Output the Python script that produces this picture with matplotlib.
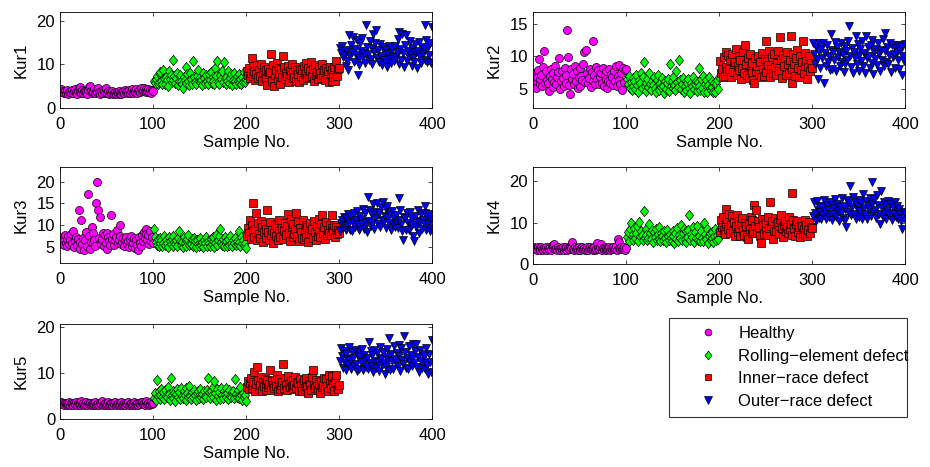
import matplotlib
matplotlib.use("Agg")
import matplotlib.pyplot as plt
import numpy as np

plt.rcParams['font.family'] = ['Liberation Sans', 'DejaVu Sans']
plt.rcParams['font.size'] = 12

# ---- Kur1 ----
kur1_healthy = [4.3, 3.6, 3.9, 3.4, 4.0, 3.5, 3.8, 4.2, 3.3, 3.7,
                3.9, 3.5, 4.1, 3.4, 3.8, 4.4, 3.6, 3.3, 3.9, 4.6,
                4.9, 3.7, 3.5, 4.2, 3.4, 3.8, 4.0, 3.6, 3.3, 4.1,
                4.7, 5.1, 3.8, 3.5, 4.0, 3.6, 4.4, 3.4, 3.9, 3.7,
                4.5, 3.6, 3.3, 3.9, 3.5, 4.2, 3.8, 3.4, 4.6, 3.7,
                3.5, 3.9, 3.3, 3.6, 3.4, 3.8, 3.2, 3.5, 3.7, 3.3,
                3.6, 3.4, 3.8, 3.3, 3.5, 3.2, 3.7, 3.9, 3.4, 4.1,
                3.6, 3.9, 3.4, 4.2, 3.5, 3.8, 4.3, 3.6, 3.4, 4.0,
                3.7, 4.4, 3.5, 3.9, 4.2, 3.6, 4.5, 3.8, 4.1, 4.6,
                3.9, 4.3, 3.6, 4.0, 4.4, 3.7, 4.2, 3.5, 4.1, 3.8]
kur1_rolling = [6.2, 5.8, 6.6, 7.4, 5.4, 6.0, 7.8, 8.3, 6.3, 5.5,
                8.8, 6.9, 5.6, 7.2, 6.4, 5.1, 8.4, 6.7, 7.5, 5.9,
                6.5, 11.1, 7.3, 5.7, 6.9, 8.0, 5.3, 6.2, 7.6, 6.1,
                5.5, 4.5, 7.0, 6.4, 9.5, 5.8, 7.7, 6.3, 5.2, 8.1,
                6.6, 5.6, 10.7, 7.1, 6.0, 5.4, 7.4, 8.6, 6.2, 5.9,
                7.2, 6.5, 5.3, 8.0, 6.8, 5.7, 7.5, 6.1, 5.5, 7.9,
                6.4, 8.3, 5.8, 7.0, 6.3, 5.6, 9.1, 7.3, 10.7, 6.0,
                5.4, 7.6, 6.6, 8.5, 5.9, 10.5, 6.8, 5.5, 7.2, 6.2,
                8.4, 5.7, 6.9, 7.7, 5.3, 6.5, 8.0, 6.1, 5.6, 7.4,
                6.3, 7.9, 5.8, 6.7, 5.4, 7.1, 6.0, 8.2, 5.9, 6.6]
kur1_inner = [8.5, 7.6, 9.2, 6.8, 8.0, 11.5, 7.3, 9.6, 8.4, 6.5,
              7.9, 9.8, 6.9, 8.7, 7.4, 10.1, 6.3, 8.2, 9.4, 7.1,
              8.8, 6.6, 5.2, 9.0, 7.7, 8.3, 12.4, 6.2, 9.9, 5.0,
              7.5, 8.6, 10.2, 6.4, 9.1, 7.8, 5.6, 8.9, 7.2, 12.0,
              9.5, 6.7, 8.1, 7.3, 9.7, 6.0, 8.4, 7.6, 10.0, 6.9,
              8.2, 7.0, 9.3, 6.2, 8.6, 7.9, 5.9, 9.0, 7.4, 8.8,
              6.5, 9.6, 7.7, 10.4, 8.0, 6.8, 9.2, 7.1, 8.5, 10.6,
              7.3, 8.9, 6.1, 9.8, 7.6, 8.3, 6.6, 9.4, 7.9, 8.1,
              6.9, 10.0, 7.5, 8.7, 6.4, 9.1, 7.2, 8.4, 6.0, 9.5,
              7.8, 6.3, 8.6, 7.0, 9.3, 6.2, 10.8, 7.4, 8.9, 9.2]
kur1_outer = [13.8, 12.5, 14.2, 11.6, 13.0, 12.1, 9.6, 13.4, 10.8, 8.6,
              16.7, 11.9, 14.5, 12.8, 16.2, 10.5, 13.6, 12.2, 15.6, 7.6,
              11.4, 9.8, 14.8, 13.1, 16.0, 11.7, 12.6, 10.3, 19.1, 14.0,
              12.3, 10.9, 15.3, 11.2, 13.7, 10.1, 17.0, 12.9, 15.0, 17.9,
              11.5, 13.3, 10.6, 14.6, 12.0, 9.9, 13.9, 11.1, 12.7, 10.4,
              13.2, 9.4, 12.4, 14.3, 11.3, 10.2, 13.5, 12.0, 10.7, 14.1,
              11.8, 12.9, 15.8, 10.0, 17.4, 13.6, 11.0, 16.9, 12.5, 9.3,
              14.4, 16.8, 10.8, 13.0, 11.6, 15.4, 12.2, 9.7, 13.8, 11.4,
              10.5, 14.7, 12.8, 9.2, 13.1, 15.2, 11.7, 10.2, 14.0, 12.4,
              13.5, 19.1, 11.0, 15.5, 10.6, 13.9, 12.1, 14.9, 10.4, 18.5]

# ---- Kur2 ----
kur2_healthy = [7.5, 6.2, 5.2, 6.8, 7.9, 9.6, 5.8, 6.5, 7.2, 5.5,
                8.4, 10.8, 6.0, 7.7, 6.4, 5.9, 4.7, 7.0, 8.1, 6.6,
                5.3, 7.4, 6.1, 8.6, 5.7, 6.9, 7.6, 9.7, 5.0, 6.3,
                7.8, 6.7, 5.4, 8.2, 7.1, 6.0, 14.1, 9.9, 5.6, 4.3,
                8.0, 6.5, 7.3, 5.8, 8.5, 6.2, 7.7, 5.1, 6.9, 8.3,
                5.5, 7.0, 6.4, 8.8, 10.6, 6.1, 11.0, 7.4, 5.9, 6.7,
                8.1, 5.3, 7.6, 6.3, 12.3, 7.2, 5.7, 8.4, 6.6, 7.9,
                5.8, 6.9, 7.5, 6.0, 8.2, 5.4, 7.1, 6.5, 7.8, 5.1,
                6.3, 8.0, 5.9, 7.3, 6.8, 5.6, 7.7, 6.2, 8.6, 5.5,
                7.0, 6.4, 8.7, 5.8, 7.4, 4.9, 8.3, 6.1, 7.9, 8.0]
kur2_rolling = [6.5, 5.8, 7.0, 5.2, 6.1, 4.8, 6.7, 5.5, 6.3, 5.0,
                7.2, 5.6, 4.6, 6.4, 5.9, 7.5, 5.1, 6.8, 9.2, 5.4,
                6.0, 4.7, 6.6, 5.3, 7.4, 5.8, 4.9, 6.2, 5.6, 6.9,
                5.1, 4.5, 6.4, 7.1, 5.7, 4.8, 6.0, 5.3, 6.7, 5.5,
                4.4, 6.2, 5.0, 5.9, 6.6, 4.7, 8.8, 5.4, 6.3, 5.2,
                6.9, 5.6, 4.9, 7.7, 6.1, 5.3, 9.5, 6.4, 5.0, 5.8,
                6.7, 4.6, 5.5, 6.2, 4.8, 5.9, 6.5, 5.1, 4.4, 6.0,
                5.4, 6.8, 5.0, 5.7, 6.3, 4.7, 6.1, 8.2, 5.5, 4.9,
                6.6, 5.2, 7.0, 4.6, 5.8, 6.4, 4.5, 5.6, 6.9, 5.1,
                4.8, 6.2, 5.3, 4.6, 5.9, 4.5, 5.7, 6.4, 5.0, 6.8]
kur2_inner = [9.3, 7.4, 8.1, 6.8, 9.9, 7.0, 10.6, 8.4, 7.7, 10.2,
              8.0, 9.5, 6.9, 10.4, 7.6, 8.8, 9.1, 11.1, 7.2, 8.6,
              10.0, 7.9, 9.4, 6.6, 8.3, 10.7, 7.5, 11.8, 8.9, 7.1,
              9.7, 6.7, 10.3, 8.2, 7.4, 9.0, 6.4, 6.0, 9.8, 7.8,
              8.5, 10.1, 7.3, 9.2, 6.8, 10.5, 8.0, 7.0, 9.6, 12.3,
              7.6, 9.3, 8.7, 10.8, 6.9, 8.1, 9.9, 7.4, 10.4, 8.4,
              7.1, 9.0, 10.9, 8.3, 7.7, 13.0, 9.4, 6.7, 10.2, 8.6,
              9.8, 7.2, 10.6, 8.9, 7.5, 9.5, 13.1, 8.0, 6.0, 10.3,
              8.8, 7.0, 9.7, 11.0, 8.2, 6.8, 10.0, 7.9, 9.1, 12.3,
              7.4, 10.5, 8.6, 9.3, 6.6, 8.4, 10.1, 7.8, 9.0, 8.2]
kur2_outer = [12.0, 10.4, 8.8, 11.5, 9.6, 6.5, 10.9, 12.1, 8.3, 11.2,
              9.8, 12.0, 6.0, 10.5, 8.6, 11.7, 9.2, 10.0, 7.9, 13.4,
              11.0, 8.1, 10.7, 9.4, 12.2, 7.8, 11.4, 9.9, 10.6, 8.5,
              12.0, 9.1, 10.3, 7.6, 11.6, 8.9, 10.8, 9.5, 12.3, 14.7,
              10.1, 8.4, 11.3, 7.5, 10.7, 9.7, 13.2, 8.8, 11.9, 10.2,
              7.7, 11.1, 9.3, 12.4, 8.6, 10.5, 7.4, 13.2, 9.8, 11.5,
              10.0, 8.2, 11.8, 9.0, 12.5, 7.3, 10.6, 9.6, 11.2, 8.7,
              12.1, 10.3, 7.8, 11.0, 9.4, 12.6, 8.5, 10.8, 13.6, 9.2,
              11.4, 8.9, 10.2, 12.0, 7.6, 11.7, 9.9, 10.4, 8.3, 11.3,
              10.6, 9.5, 11.8, 8.0, 10.9, 11.6, 7.2, 10.1, 9.3, 11.9]

# ---- Kur3 ----
kur3_healthy = [5.8, 7.2, 6.3, 5.5, 7.8, 6.0, 5.2, 6.8, 7.5, 5.6,
                6.6, 8.0, 5.9, 8.7, 5.0, 6.4, 7.3, 5.4, 6.9, 13.4,
                6.1, 4.6, 11.2, 5.7, 7.0, 4.4, 6.5, 8.5, 5.3, 17.2,
                7.6, 4.5, 6.2, 9.7, 5.8, 8.2, 6.7, 5.1, 15.1, 20.0,
                13.4, 7.1, 12.0, 5.6, 6.9, 8.3, 5.2, 7.7, 6.0, 8.1,
                4.5, 7.4, 6.3, 5.5, 12.4, 6.8, 7.9, 5.4, 6.5, 7.2,
                9.0, 5.9, 6.6, 10.1, 7.5, 5.7, 6.2, 7.0, 5.3, 6.8,
                7.3, 5.6, 6.4, 5.0, 6.9, 7.6, 5.2, 6.1, 5.8, 7.1,
                4.7, 6.5, 5.5, 4.4, 7.4, 6.0, 5.1, 7.8, 6.3, 8.4,
                7.0, 9.1, 8.0, 6.6, 7.7, 5.6, 8.6, 6.4, 7.3, 5.9]
kur3_rolling = [9.2, 7.4, 6.2, 5.5, 6.8, 5.1, 7.1, 5.8, 6.5, 5.3,
                6.0, 7.6, 5.4, 6.7, 5.9, 5.0, 7.2, 6.3, 5.6, 6.9,
                7.5, 5.2, 6.1, 5.7, 6.6, 5.3, 7.0, 8.6, 6.4, 5.5,
                6.2, 5.0, 7.3, 5.8, 6.5, 5.1, 6.9, 7.7, 5.4, 6.0,
                5.6, 6.8, 5.2, 7.1, 6.3, 4.9, 6.6, 5.7, 5.3, 6.2,
                7.0, 5.5, 6.1, 5.0, 6.7, 5.8, 7.4, 5.3, 6.4, 5.9,
                5.2, 6.9, 5.6, 6.3, 7.2, 5.0, 6.0, 7.8, 5.4, 6.6,
                7.5, 9.1, 6.1, 5.5, 6.8, 5.2, 7.3, 5.7, 6.4, 5.1,
                6.9, 5.4, 7.6, 6.0, 5.3, 6.5, 5.8, 7.0, 5.5, 6.3,
                5.6, 8.6, 6.2, 5.2, 7.2, 5.9, 6.6, 5.4, 6.0, 4.8]
kur3_inner = [7.6, 9.4, 8.2, 11.2, 6.8, 10.0, 8.7, 15.2, 7.3, 9.1,
              12.9, 6.6, 10.5, 8.0, 7.1, 11.0, 9.6, 6.2, 8.5, 10.3,
              7.0, 9.2, 13.4, 8.4, 6.5, 10.7, 7.8, 9.0, 5.8, 8.1,
              10.1, 7.5, 9.7, 6.7, 11.3, 8.6, 7.2, 10.4, 9.3, 6.9,
              8.9, 10.6, 7.7, 9.9, 12.6, 8.3, 6.4, 11.5, 9.5, 7.4,
              10.2, 8.0, 9.1, 12.8, 7.6, 10.8, 6.3, 9.4, 8.5, 7.1,
              11.1, 6.8, 8.8, 10.0, 7.3, 9.6, 6.1, 8.2, 10.5, 7.9,
              9.2, 7.0, 10.9, 8.4, 6.6, 9.8, 7.5, 11.4, 8.7, 7.2,
              10.3, 12.4, 8.1, 9.5, 6.9, 10.7, 7.8, 9.0, 8.3, 10.1,
              7.7, 9.3, 12.3, 8.6, 10.0, 7.4, 9.6, 8.0, 8.9, 8.2]
kur3_outer = [8.7, 10.6, 11.3, 9.4, 12.0, 10.1, 8.9, 11.7, 9.8, 12.5,
              10.4, 9.0, 11.9, 8.6, 10.8, 12.7, 9.5, 11.1, 13.3, 10.0,
              8.8, 12.2, 9.7, 11.5, 10.3, 13.8, 9.2, 12.9, 10.7, 8.5,
              16.6, 11.0, 13.5, 9.9, 12.4, 10.5, 14.8, 9.1, 13.0, 11.6,
              15.2, 10.2, 12.8, 9.6, 14.2, 11.3, 15.4, 10.9, 12.1, 13.7,
              9.3, 14.5, 11.8, 10.4, 12.6, 8.9, 13.2, 10.0, 11.4, 9.7,
              12.3, 10.8, 9.4, 16.2, 11.1, 13.4, 10.3, 8.6, 6.7, 12.0,
              11.7, 9.0, 12.9, 10.6, 8.8, 13.1, 9.8, 11.5, 10.1, 7.6,
              6.4, 12.2, 9.5, 11.0, 13.6, 8.3, 10.7, 12.5, 9.2, 11.3,
              10.4, 12.8, 14.5, 9.0, 11.9, 10.2, 12.6, 8.7, 11.4, 9.3]

# ---- Kur4 ----
kur4_healthy = [4.2, 3.7, 3.9, 3.5, 4.0, 3.6, 3.8, 3.4, 4.1, 3.7,
                3.5, 3.9, 3.6, 4.2, 3.4, 3.8, 3.7, 4.0, 3.5, 4.3,
                3.9, 4.5, 4.9, 3.6, 3.8, 3.4, 4.1, 3.7, 3.5, 3.9,
                3.6, 4.0, 3.4, 3.8, 3.7, 4.2, 3.5, 3.9, 3.6, 4.1,
                3.8, 5.3, 3.7, 3.5, 4.0, 3.6, 3.9, 3.4, 4.2, 3.7,
                3.5, 3.8, 4.1, 3.6, 3.9, 3.4, 3.7, 4.0, 3.5, 3.8,
                4.2, 3.6, 3.9, 3.5, 3.8, 4.0, 3.4, 3.7, 5.1, 3.9,
                3.6, 4.1, 4.9, 3.5, 3.8, 3.7, 4.0, 3.4, 3.9, 3.6,
                3.8, 4.2, 3.5, 3.9, 3.7, 4.0, 3.6, 3.8, 4.3, 3.5,
                6.0, 3.9, 5.3, 3.7, 4.1, 3.6, 3.8, 4.0, 3.5, 3.9]
kur4_rolling = [6.5, 7.8, 5.6, 8.4, 10.0, 6.9, 7.3, 5.8, 8.8, 6.2,
                7.6, 9.2, 5.5, 10.1, 6.7, 8.0, 7.1, 5.9, 12.8, 6.4,
                8.6, 7.0, 5.7, 6.3, 9.8, 7.4, 6.0, 8.2, 5.4, 7.7,
                6.6, 8.5, 5.8, 7.2, 6.1, 8.9, 5.5, 7.5, 6.8, 5.9,
                7.9, 6.2, 5.3, 8.3, 6.9, 5.7, 7.3, 6.4, 5.6, 8.0,
                6.7, 5.2, 7.6, 6.0, 8.7, 5.5, 7.0, 6.3, 9.4, 5.8,
                7.4, 8.6, 6.1, 5.4, 7.9, 6.6, 8.2, 11.8, 5.7, 7.2,
                6.5, 8.9, 5.3, 7.7, 6.2, 9.3, 5.9, 7.1, 6.8, 5.5,
                8.1, 6.4, 5.6, 9.9, 7.3, 6.0, 8.4, 5.2, 6.9, 7.5,
                5.7, 6.3, 7.8, 5.4, 6.7, 8.6, 5.9, 7.0, 6.1, 8.3]
kur4_inner = [7.8, 10.6, 9.0, 11.3, 8.2, 7.3, 13.4, 9.7, 10.9, 8.6,
              12.0, 7.5, 9.4, 11.6, 8.0, 10.2, 6.9, 9.1, 11.8, 7.7,
              8.8, 10.4, 6.7, 9.6, 11.1, 8.3, 7.1, 10.0, 9.3, 6.5,
              6.0, 9.8, 8.5, 11.4, 7.4, 10.7, 8.1, 14.4, 9.2, 13.0,
              7.6, 10.3, 8.9, 6.8, 5.1, 11.0, 9.5, 7.2, 10.8, 8.4,
              9.9, 7.0, 11.5, 8.7, 15.0, 9.3, 10.5, 6.1, 8.0, 11.2,
              7.9, 9.6, 10.1, 8.3, 7.3, 10.9, 11.8, 8.8, 6.6, 9.4,
              10.3, 8.1, 9.0, 7.5, 11.3, 8.5, 9.8, 7.1, 17.2, 10.6,
              8.4, 6.9, 9.7, 10.4, 7.7, 8.9, 6.5, 10.0, 9.2, 7.4,
              8.6, 10.7, 7.0, 9.5, 6.8, 8.2, 10.1, 7.6, 9.0, 8.7]
kur4_outer = [11.6, 14.9, 12.3, 10.4, 15.3, 13.1, 11.2, 14.0, 12.6, 10.8,
              13.7, 11.9, 15.6, 12.8, 10.9, 14.4, 13.0, 11.5, 15.1, 12.1,
              14.2, 10.7, 13.5, 12.0, 15.8, 11.3, 14.6, 12.9, 10.5, 13.8,
              12.4, 15.9, 11.1, 14.1, 13.3, 10.6, 9.0, 15.4, 12.7, 14.8,
              18.8, 11.8, 13.9, 16.2, 12.2, 15.0, 10.9, 14.3, 13.2, 11.4,
              15.5, 12.8, 14.7, 11.0, 17.0, 13.6, 12.1, 15.2, 10.8, 14.0,
              13.4, 16.1, 11.7, 14.5, 19.8, 12.5, 15.7, 13.0, 11.2, 16.6,
              14.2, 12.0, 9.6, 17.8, 13.5, 11.5, 15.1, 12.7, 14.4, 10.9,
              13.1, 15.3, 11.8, 14.6, 12.4, 10.6, 13.9, 12.2, 15.0, 11.3,
              14.1, 12.9, 11.0, 13.4, 12.0, 10.4, 8.5, 12.6, 11.1, 12.3]

# ---- Kur5 ----
kur5_healthy = [3.7, 3.2, 3.4, 3.1, 3.5, 3.3, 3.0, 3.4, 3.2, 3.6,
                3.1, 3.5, 3.3, 3.0, 3.4, 3.2, 3.6, 3.1, 3.5, 3.3,
                3.0, 3.4, 4.0, 3.2, 3.5, 3.1, 3.3, 3.6, 3.0, 3.4,
                3.2, 3.5, 3.1, 3.3, 3.0, 3.4, 3.2, 3.6, 3.1, 3.3,
                3.5, 3.0, 3.4, 3.2, 3.9, 3.1, 3.3, 3.5, 3.0, 3.4,
                3.2, 3.6, 3.1, 3.3, 3.5, 3.0, 3.4, 3.2, 3.6, 3.1,
                3.3, 3.5, 3.0, 3.4, 3.2, 3.6, 3.1, 3.3, 3.5, 3.0,
                3.4, 3.2, 3.6, 3.1, 3.3, 3.5, 3.0, 3.4, 3.2, 3.7,
                3.1, 3.3, 3.5, 3.0, 3.4, 3.2, 3.6, 3.8, 3.3, 3.5,
                3.0, 3.4, 3.9, 3.2, 3.5, 3.1, 3.3, 3.6, 3.2, 3.4]
kur5_rolling = [4.5, 5.6, 4.2, 8.5, 5.0, 6.1, 4.4, 5.3, 6.6, 4.8,
                5.9, 4.3, 6.4, 5.1, 4.7, 6.9, 5.5, 4.1, 8.9, 5.2,
                4.6, 6.2, 5.7, 4.0, 5.4, 6.5, 4.9, 5.8, 4.3, 6.7,
                5.0, 4.5, 6.0, 5.3, 4.2, 6.8, 5.6, 4.7, 7.1, 5.1,
                4.4, 5.9, 4.8, 6.3, 5.2, 4.1, 5.7, 6.1, 4.6, 5.4,
                6.6, 4.9, 5.5, 4.3, 6.0, 5.1, 4.7, 6.4, 8.9, 5.8,
                4.5, 6.2, 5.3, 7.0, 4.8, 8.2, 5.6, 4.2, 6.5, 5.0,
                5.9, 4.4, 6.7, 5.2, 4.6, 6.1, 5.4, 4.9, 6.8, 5.7,
                4.3, 6.3, 5.1, 4.7, 5.8, 6.0, 4.5, 8.7, 5.5, 4.8,
                6.4, 5.0, 4.6, 6.9, 5.3, 4.2, 5.7, 4.9, 5.2, 3.9]
kur5_inner = [7.0, 8.3, 6.5, 7.8, 9.0, 6.8, 7.5, 8.1, 10.3, 6.2,
              7.7, 11.3, 8.6, 6.6, 7.3, 9.2, 6.0, 8.0, 7.1, 8.8,
              6.4, 7.9, 8.4, 6.9, 7.6, 10.7, 6.3, 8.2, 7.4, 6.7,
              8.5, 7.2, 9.6, 6.1, 7.8, 8.7, 6.6, 7.5, 8.0, 11.9,
              6.8, 8.9, 7.3, 6.4, 9.4, 7.7, 6.9, 8.3, 7.1, 6.5,
              8.6, 7.4, 9.1, 6.7, 8.1, 7.9, 6.2, 8.8, 7.5, 6.0,
              7.8, 8.4, 6.6, 7.2, 8.9, 7.0, 5.6, 8.2, 7.6, 6.3,
              9.2, 10.7, 7.3, 6.8, 8.5, 7.1, 6.4, 8.0, 7.7, 5.7,
              8.3, 6.9, 7.5, 9.0, 6.5, 8.7, 7.2, 6.1, 9.6, 7.9,
              6.7, 8.6, 9.3, 7.4, 6.2, 8.1, 9.5, 7.0, 6.6, 7.3]
kur5_outer = [12.6, 15.4, 13.8, 11.2, 14.9, 12.3, 10.6, 14.2, 13.0, 11.7,
              15.6, 12.8, 10.9, 14.5, 13.3, 11.5, 15.0, 12.0, 10.4, 13.7,
              14.6, 11.0, 13.5, 12.4, 15.3, 10.7, 14.0, 12.9, 11.4, 13.2,
              10.8, 16.7, 12.2, 14.8, 11.6, 13.9, 10.3, 15.1, 12.7, 11.1,
              14.3, 12.5, 10.5, 15.7, 13.4, 11.8, 14.7, 12.1, 9.9, 13.6,
              11.3, 15.2, 12.9, 17.6, 10.6, 14.1, 12.6, 11.0, 15.8, 13.1,
              12.2, 14.4, 11.5, 16.1, 13.7, 10.4, 15.5, 12.8, 11.9, 18.0,
              14.6, 11.2, 13.3, 10.8, 15.9, 12.4, 14.0, 11.6, 13.0, 16.4,
              12.1, 14.9, 16.3, 11.4, 13.6, 10.2, 15.0, 12.7, 11.1, 14.2,
              13.5, 10.9, 12.3, 15.4, 11.7, 9.8, 14.1, 12.5, 10.3, 17.2]

labels = ['Healthy', 'Rolling\u2212element defect', 'Inner\u2212race defect', 'Outer\u2212race defect']
# matlab style diamond is a bit narrower than it is tall
diamond = [(0, 1), (0.8, 0), (0, -1), (-0.8, 0), (0, 1)]
markers = ['o', diamond, 's', 'v']
msizes = [5.8, 7.4, 5.2, 6.2]
colors = ['#ff00ff', '#00ff00', '#ff0000', '#0000ff']

panels = [
    ('Kur1', [kur1_healthy, kur1_rolling, kur1_inner, kur1_outer], (0, 22), [0, 10, 20]),
    ('Kur2', [kur2_healthy, kur2_rolling, kur2_inner, kur2_outer], (2.1, 16.8), [5, 10, 15]),
    ('Kur3', [kur3_healthy, kur3_rolling, kur3_inner, kur3_outer], (1.3, 23.4), [5, 10, 15, 20]),
    ('Kur4', [kur4_healthy, kur4_rolling, kur4_inner, kur4_outer], (0, 23.5), [0, 10, 20]),
    ('Kur5', [kur5_healthy, kur5_rolling, kur5_inner, kur5_outer], (0, 20.7), [0, 10, 20]),
]

# axes boxes in pixels: left, top, width, height
W, H = 930, 467
rects = [
    (60, 12, 372, 96),
    (533, 12, 372, 96),
    (60, 167, 372, 96),
    (533, 167, 372, 97),
    (60, 324, 372, 95),
]

fig = plt.figure(figsize=(W / 100, H / 100), dpi=100)

handles = []
for (name, series, ylim, yticks), (x0, y0, w, h) in zip(panels, rects):
    ax = fig.add_axes([x0 / W, 1 - (y0 + h) / H, w / W, h / H])
    for k, vals in enumerate(series):
        x = np.arange(1, len(vals) + 1) + 100 * k
        ln, = ax.plot(x, vals, linestyle='none', marker=markers[k], markersize=msizes[k],
                      markerfacecolor=colors[k], markeredgecolor='black', markeredgewidth=0.5,
                      label=labels[k])
        if name == 'Kur1':
            handles.append(ln)
    ax.set_xlim(0, 400)
    ax.set_ylim(*ylim)
    ax.set_xticks([0, 100, 200, 300, 400])
    ax.set_yticks(yticks)
    ax.tick_params(direction='in', top=True, right=True, length=3, width=0.5, labelsize=12)
    ax.tick_params(axis='x', pad=6.5)
    ax.tick_params(axis='y', pad=3.5)
    for sp in ax.spines.values():
        sp.set_linewidth(0.6)
    ax.set_xlabel('Sample No.', fontsize=12, labelpad=2)
    ax.set_ylabel(name, fontsize=12, labelpad=6)

leg = fig.legend(handles=handles, labels=labels, loc='lower left',
                 bbox_to_anchor=(669 / W, 1 - 417 / H, 238 / W, 98 / H), mode='expand',
                 fancybox=False, edgecolor='black', fontsize=12, handlelength=3.7,
                 handletextpad=-0.05, labelspacing=0.45, borderpad=0.5, borderaxespad=0,
                 markerscale=0.85)
leg.get_frame().set_linewidth(0.8)

fig.savefig('out.png', dpi=100)
